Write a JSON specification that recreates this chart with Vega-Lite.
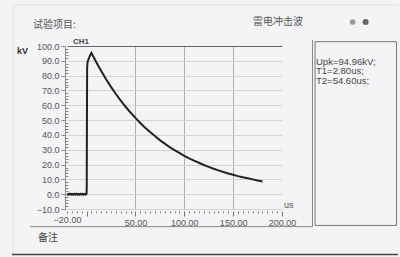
{
  "$schema": "https://vega.github.io/schema/vega-lite/v6.json",
  "width": 215,
  "height": 163,
  "autosize": {"type": "none"},
  "padding": {"left": 67, "top": 46, "right": 118, "bottom": 48},
  "background": "#f4f4f6",
  "config": {"view": {"stroke": null}, "font": "Liberation Sans"},
  "resolve": {"axis": {"x": "independent", "y": "independent"}},
  "data": {"values": [
    {"t": -20, "v": 0.2}, {"t": -19, "v": -0.3}, {"t": -18, "v": 0.3}, {"t": -17, "v": -0.2},
    {"t": -16, "v": 0.3}, {"t": -15, "v": -0.3}, {"t": -14, "v": 0.2}, {"t": -13, "v": -0.3},
    {"t": -12, "v": 0.3}, {"t": -11, "v": -0.2}, {"t": -10, "v": 0.3}, {"t": -9, "v": -0.3},
    {"t": -8, "v": 0.2}, {"t": -7, "v": -0.3}, {"t": -6, "v": 0.3}, {"t": -5, "v": -0.2},
    {"t": -4, "v": 0.3}, {"t": -3, "v": -0.3}, {"t": -2, "v": 0.2}, {"t": -1, "v": -0.2},
    {"t": 0, "v": 0.2}, {"t": 0.2, "v": 5}, {"t": 0.4, "v": 50}, {"t": 0.6, "v": 85},
    {"t": 1, "v": 89}, {"t": 2, "v": 91}, {"t": 3.5, "v": 93.5}, {"t": 5, "v": 95.3},
    {"t": 10, "v": 89.0}, {"t": 15, "v": 83.1}, {"t": 20, "v": 77.6}, {"t": 25, "v": 72.4},
    {"t": 30, "v": 67.6}, {"t": 35, "v": 63.2}, {"t": 40, "v": 59.0}, {"t": 45, "v": 55.1},
    {"t": 50, "v": 51.5}, {"t": 55, "v": 48.0}, {"t": 60, "v": 44.8}, {"t": 65, "v": 41.9},
    {"t": 70, "v": 39.2}, {"t": 75, "v": 36.5}, {"t": 80, "v": 34.1}, {"t": 85, "v": 31.8},
    {"t": 90, "v": 29.7}, {"t": 95, "v": 27.8}, {"t": 100, "v": 25.9}, {"t": 105, "v": 24.2},
    {"t": 110, "v": 22.6}, {"t": 115, "v": 21.2}, {"t": 120, "v": 19.7}, {"t": 125, "v": 18.4},
    {"t": 130, "v": 17.2}, {"t": 135, "v": 16.1}, {"t": 140, "v": 15.0}, {"t": 145, "v": 14.0},
    {"t": 150, "v": 13.1}, {"t": 155, "v": 12.2}, {"t": 160, "v": 11.4}, {"t": 165, "v": 10.7},
    {"t": 170, "v": 10.0}, {"t": 175, "v": 9.3}, {"t": 180, "v": 8.6}
  ]},
  "layer": [
    {
      "mark": {"type": "line", "color": "#222222", "strokeWidth": 2, "clip": false},
      "encoding": {
        "x": {"field": "t", "type": "quantitative",
          "scale": {"domain": [-20, 200], "nice": false, "zero": false},
          "axis": {"title": null,
            "values": [-20,-15,-10,-5,0,5,10,15,20,25,30,35,40,45,50,55,60,65,70,75,80,85,90,95,100,105,110,115,120,125,130,135,140,145,150,155,160,165,170,175,180,185,190,195,200],
            "labelExpr": "(datum.value === -20 || (datum.value >= 50 && datum.value % 50 === 0)) ? format(datum.value, '.2f') : ''",
            "labelOverlap": false, "labelFlush": false, "labelBound": false,
            "labelFontSize": 9, "labelColor": "#555555", "labelFont": "Liberation Sans",
            "domain": false, "offset": 2,
            "tickColor": "#777777",
            "tickSize": {"condition": {"test": "datum.value % 50 === 0", "value": 5}, "value": 2},
            "labelPadding": 2,
            "grid": true, "gridColor": "#b0b0b0",
            "gridOpacity": {"condition": {"test": "datum.value > 0 && datum.value < 200 && datum.value % 50 === 0", "value": 1}, "value": 0}
          }
        },
        "y": {"field": "v", "type": "quantitative",
          "scale": {"domain": [-10, 100], "nice": false, "zero": false},
          "axis": {"title": null,
            "values": [-10,-8,-6,-4,-2,0,2,4,6,8,10,12,14,16,18,20,22,24,26,28,30,32,34,36,38,40,42,44,46,48,50,52,54,56,58,60,62,64,66,68,70,72,74,76,78,80,82,84,86,88,90,92,94,96,98,100],
            "labelExpr": "datum.value % 10 === 0 ? format(datum.value, '.1f') : ''",
            "labelOverlap": false, "labelFlush": false, "labelBound": false,
            "labelFontSize": 9, "labelColor": "#555555", "labelFont": "Liberation Sans",
            "domainColor": "#888888", "offset": 2,
            "tickColor": "#888888",
            "tickSize": {"condition": {"test": "datum.value % 10 === 0", "value": 4}, "value": -3},
            "labelPadding": 2,
            "grid": true,
            "gridColor": {"condition": {"test": "datum.value === 100", "value": "#666666"}, "value": "#d2d2d2"},
            "gridOpacity": {"condition": {"test": "datum.value % 10 === 0", "value": 1}, "value": 0}
          }
        }
      }
    },
    {
      "data": {"values": [{}]},
      "mark": {"type": "rule", "color": "#e0e0e0", "strokeWidth": 1},
      "encoding": {
        "x": {"datum": -75.3, "type": "quantitative", "scale": {"domain": [-20, 200], "nice": false, "zero": false}, "axis": null},
        "y": {"datum": 127.7, "type": "quantitative", "scale": {"domain": [-10, 100], "nice": false, "zero": false}, "axis": null},
        "y2": {"datum": -40.4}
      }
    },
    {
      "data": {"values": [{}]},
      "mark": {"type": "rule", "color": "#e0e0e0", "strokeWidth": 1},
      "encoding": {
        "x": {"datum": -75.3, "type": "quantitative", "scale": {"domain": [-20, 200], "nice": false, "zero": false}, "axis": null},
        "x2": {"datum": 318.7},
        "y": {"datum": 127.7, "type": "quantitative", "scale": {"domain": [-10, 100], "nice": false, "zero": false}, "axis": null}
      }
    },
    {
      "data": {"values": [{}]},
      "mark": {"type": "rule", "color": "#888888", "strokeWidth": 1},
      "encoding": {
        "x": {"datum": -57.9, "type": "quantitative", "scale": {"domain": [-20, 200], "nice": false, "zero": false}, "axis": null},
        "x2": {"datum": 231.2},
        "y": {"datum": -21.9, "type": "quantitative", "scale": {"domain": [-10, 100], "nice": false, "zero": false}, "axis": null}
      }
    },
    {
      "data": {"values": [{}]},
      "mark": {"type": "rule", "color": "#888888", "strokeWidth": 1},
      "encoding": {
        "x": {"datum": 231.2, "type": "quantitative", "scale": {"domain": [-20, 200], "nice": false, "zero": false}, "axis": null},
        "y": {"datum": 104.0, "type": "quantitative", "scale": {"domain": [-10, 100], "nice": false, "zero": false}, "axis": null},
        "y2": {"datum": -21.9}
      }
    },
    {
      "data": {"values": [{}]},
      "mark": {"type": "rect", "fillOpacity": 0, "stroke": "#777777", "strokeWidth": 1},
      "encoding": {
        "x": {"datum": 233.8, "type": "quantitative", "scale": {"domain": [-20, 200], "nice": false, "zero": false}, "axis": null},
        "x2": {"datum": 317.2},
        "y": {"datum": 102.9, "type": "quantitative", "scale": {"domain": [-10, 100], "nice": false, "zero": false}, "axis": null},
        "y2": {"datum": -21.1}
      }
    },
    {
      "data": {"values": [{}]},
      "mark": {"type": "rule", "color": "#444444", "strokeWidth": 1.5},
      "encoding": {
        "x": {"datum": -76.3, "type": "quantitative", "scale": {"domain": [-20, 200], "nice": false, "zero": false}, "axis": null},
        "x2": {"datum": 318.7},
        "y": {"datum": -40.7, "type": "quantitative", "scale": {"domain": [-10, 100], "nice": false, "zero": false}, "axis": null}
      }
    },
    {
      "data": {"values": [{"label": "试验项目:"}]},
      "mark": {"type": "text", "align": "left", "baseline": "middle", "font": "Noto Sans CJK SC", "fontSize": 10, "color": "#555555"},
      "encoding": {
        "x": {"datum": -54.8, "type": "quantitative", "scale": {"domain": [-20, 200], "nice": false, "zero": false}, "axis": null},
        "y": {"datum": 114.5, "type": "quantitative", "scale": {"domain": [-10, 100], "nice": false, "zero": false}, "axis": null},
        "text": {"field": "label"}
      }
    },
    {
      "data": {"values": [{"label": "雷电冲击波"}]},
      "mark": {"type": "text", "align": "left", "baseline": "middle", "font": "Noto Sans CJK SC", "fontSize": 10, "color": "#555555"},
      "encoding": {
        "x": {"datum": 170.3, "type": "quantitative", "scale": {"domain": [-20, 200], "nice": false, "zero": false}, "axis": null},
        "y": {"datum": 115.9, "type": "quantitative", "scale": {"domain": [-10, 100], "nice": false, "zero": false}, "axis": null},
        "text": {"field": "label"}
      }
    },
    {
      "data": {"values": [{"label": "备注"}]},
      "mark": {"type": "text", "align": "left", "baseline": "middle", "font": "Noto Sans CJK SC", "fontSize": 10, "color": "#444444"},
      "encoding": {
        "x": {"datum": -49.7, "type": "quantitative", "scale": {"domain": [-20, 200], "nice": false, "zero": false}, "axis": null},
        "y": {"datum": -29.6, "type": "quantitative", "scale": {"domain": [-10, 100], "nice": false, "zero": false}, "axis": null},
        "text": {"field": "label"}
      }
    },
    {
      "data": {"values": [{"label": "kV"}]},
      "mark": {"type": "text", "align": "left", "baseline": "middle", "fontSize": 9, "fontWeight": "bold", "color": "#333333"},
      "encoding": {
        "x": {"datum": -71.2, "type": "quantitative", "scale": {"domain": [-20, 200], "nice": false, "zero": false}, "axis": null},
        "y": {"datum": 96.8, "type": "quantitative", "scale": {"domain": [-10, 100], "nice": false, "zero": false}, "axis": null},
        "text": {"field": "label"}
      }
    },
    {
      "data": {"values": [{"label": "CH1"}]},
      "mark": {"type": "text", "align": "left", "baseline": "middle", "fontSize": 8, "fontWeight": "bold", "color": "#444444"},
      "encoding": {
        "x": {"datum": -13.9, "type": "quantitative", "scale": {"domain": [-20, 200], "nice": false, "zero": false}, "axis": null},
        "y": {"datum": 102.7, "type": "quantitative", "scale": {"domain": [-10, 100], "nice": false, "zero": false}, "axis": null},
        "text": {"field": "label"}
      }
    },
    {
      "data": {"values": [{"label": "us"}]},
      "mark": {"type": "text", "align": "left", "baseline": "middle", "fontSize": 9, "color": "#555555"},
      "encoding": {
        "x": {"datum": 202, "type": "quantitative", "scale": {"domain": [-20, 200], "nice": false, "zero": false}, "axis": null},
        "y": {"datum": -7.3, "type": "quantitative", "scale": {"domain": [-10, 100], "nice": false, "zero": false}, "axis": null},
        "text": {"field": "label"}
      }
    },
    {
      "data": {"values": [{"label": "Upk=94.96kV;"}]},
      "mark": {"type": "text", "align": "left", "baseline": "middle", "fontSize": 9.5, "color": "#444444"},
      "encoding": {
        "x": {"datum": 234.8, "type": "quantitative", "scale": {"domain": [-20, 200], "nice": false, "zero": false}, "axis": null},
        "y": {"datum": 89.2, "type": "quantitative", "scale": {"domain": [-10, 100], "nice": false, "zero": false}, "axis": null},
        "text": {"field": "label"}
      }
    },
    {
      "data": {"values": [{"label": "T1=2.80us;"}]},
      "mark": {"type": "text", "align": "left", "baseline": "middle", "fontSize": 9.5, "color": "#444444"},
      "encoding": {
        "x": {"datum": 234.8, "type": "quantitative", "scale": {"domain": [-20, 200], "nice": false, "zero": false}, "axis": null},
        "y": {"datum": 82.8, "type": "quantitative", "scale": {"domain": [-10, 100], "nice": false, "zero": false}, "axis": null},
        "text": {"field": "label"}
      }
    },
    {
      "data": {"values": [{"label": "T2=54.60us;"}]},
      "mark": {"type": "text", "align": "left", "baseline": "middle", "fontSize": 9.5, "color": "#444444"},
      "encoding": {
        "x": {"datum": 234.8, "type": "quantitative", "scale": {"domain": [-20, 200], "nice": false, "zero": false}, "axis": null},
        "y": {"datum": 76.4, "type": "quantitative", "scale": {"domain": [-10, 100], "nice": false, "zero": false}, "axis": null},
        "text": {"field": "label"}
      }
    },
    {
      "data": {"values": [{}]},
      "mark": {"type": "point", "filled": true, "size": 32, "color": "#9a9a9a", "opacity": 1},
      "encoding": {
        "x": {"datum": 272.3, "type": "quantitative", "scale": {"domain": [-20, 200], "nice": false, "zero": false}, "axis": null},
        "y": {"datum": 116.2, "type": "quantitative", "scale": {"domain": [-10, 100], "nice": false, "zero": false}, "axis": null}
      }
    },
    {
      "data": {"values": [{}]},
      "mark": {"type": "point", "filled": true, "size": 36, "color": "#666666", "opacity": 1},
      "encoding": {
        "x": {"datum": 285.6, "type": "quantitative", "scale": {"domain": [-20, 200], "nice": false, "zero": false}, "axis": null},
        "y": {"datum": 116.2, "type": "quantitative", "scale": {"domain": [-10, 100], "nice": false, "zero": false}, "axis": null}
      }
    }
  ]
}
